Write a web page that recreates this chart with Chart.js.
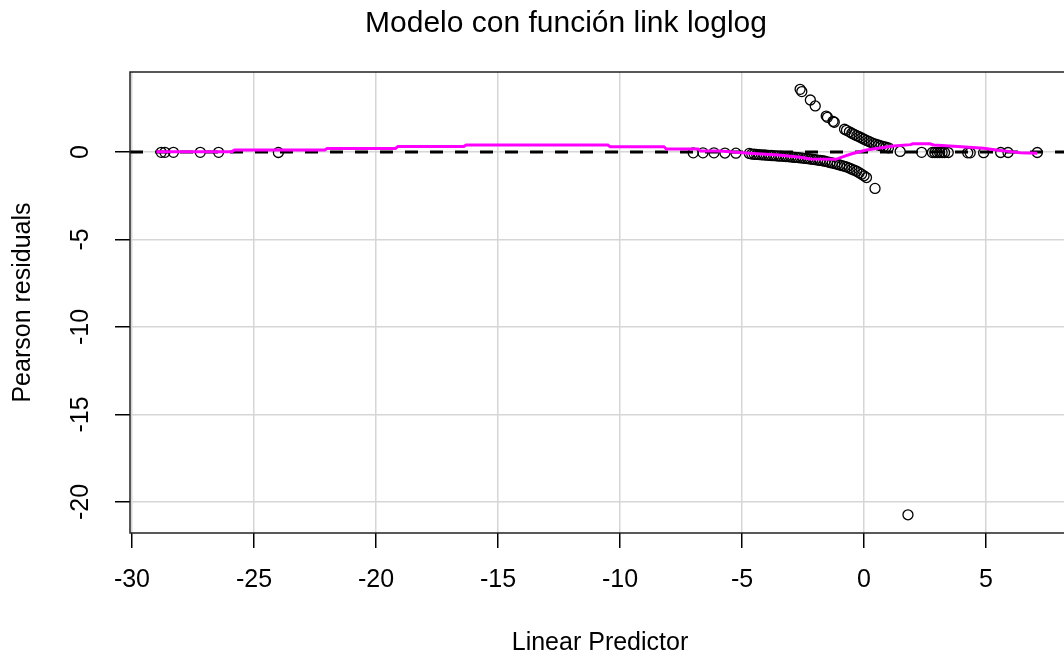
<!DOCTYPE html>
<html>
<head>
<meta charset="utf-8">
<script src="https://cdn.jsdelivr.net/npm/chart.js@4.4.1/dist/chart.umd.min.js"></script>
<style>
  html, body { margin: 0; padding: 0; background: #fff; overflow: hidden; }
  #wrap { width: 1100px; height: 659px; }
</style>
</head>
<body>
<div id="wrap"><canvas id="chart" width="1100" height="659"></canvas></div>
<script>
// Residuos de Pearson frente al predictor lineal
const chartTitle = 'Modelo con función link loglog';
const xTitle = 'Linear Predictor';
const yTitle = 'Pearson residuals';

const xTicks = [-30, -25, -20, -15, -10, -5, 0, 5];
const yTicks = [0, -5, -10, -15, -20];
const xLimits = [-30.08, 8.44];
const yLimits = [-21.77, 4.57];

// observaciones con residuo ~0 (izquierda y centro)
const flatX = [-28.8, -28.65, -28.3, -27.2, -26.45, -24.0,
               -7.0, -6.6, -6.15, -5.7, -5.25, -4.7];
const flatY = [-0.02, -0.02, -0.02, -0.02, -0.02, -0.03,
               -0.05, -0.05, -0.05, -0.06, -0.07, -0.08];

// rama inferior (y = 0)
const lowerX = [-4.6, -4.5, -4.4, -4.3, -4.2, -4.1, -4.0, -3.9, -3.8, -3.7, -3.6, -3.5,
                -3.4, -3.3, -3.2, -3.1, -3.0, -2.9, -2.8, -2.7, -2.6, -2.5, -2.4, -2.3,
                -2.2, -2.1, -2.0, -1.9, -1.8, -1.7, -1.6, -1.5, -1.4, -1.3, -1.2, -1.1,
                -1.0, -0.9, -0.8, -0.7, -0.6, -0.5, -0.4, -0.3, -0.2, -0.1, 0.0, 0.1, 0.45];
const lowerY = [-0.12, -0.13, -0.14, -0.15, -0.16, -0.17, -0.18, -0.19, -0.2, -0.21, -0.22, -0.23,
                -0.24, -0.25, -0.26, -0.27, -0.28, -0.3, -0.31, -0.32, -0.34, -0.35, -0.37, -0.38,
                -0.4, -0.42, -0.44, -0.46, -0.48, -0.5, -0.53, -0.56, -0.6, -0.63, -0.66, -0.7,
                -0.74, -0.78, -0.82, -0.86, -0.92, -0.98, -1.04, -1.1, -1.18, -1.27, -1.36, -1.46, -2.08];

// rama superior (y = 1)
const upperX = [-2.62, -2.55, -2.2, -2.0, -1.55, -1.5, -1.27, -1.22, -0.8, -0.72, -0.6, -0.5,
                -0.4, -0.3, -0.2, -0.1, 0.0, 0.1, 0.2, 0.3, 0.4, 0.5, 0.6, 0.7, 0.8, 0.9, 1.0];
const upperY = [3.58, 3.45, 2.97, 2.63, 2.05, 1.98, 1.75, 1.7, 1.3, 1.24, 1.15, 1.07,
                1.0, 0.93, 0.87, 0.8, 0.73, 0.66, 0.6, 0.54, 0.48, 0.44, 0.39, 0.35, 0.31, 0.27, 0.24];

// derecha, residuo ~0, y el atípico
const rightX = [1.48, 2.36, 2.8, 2.9, 3.0, 3.1, 3.2, 3.3, 3.45, 4.25, 4.35, 4.9, 5.6, 5.9, 7.1, 1.8];
const rightY = [0.03, -0.02, -0.03, -0.03, -0.03, -0.03, -0.03, -0.03, -0.03, -0.05, -0.05, -0.04, -0.03, -0.03, -0.03, -20.73];

// curva suavizada (magenta)
const smoothX = [-29.0, -25.9, -25.8, -22.1, -22.0, -19.2, -19.1, -16.4, -16.3, -10.5, -10.4, -8.2,
                 -8.1, -6.8, -6.7, -5.9, -4.7, -3.5, -2.6, -2.2, -1.15, -0.85, -0.5, 0.1,
                 1.2, 1.9, 2.0, 2.7, 2.85, 4.0, 4.9, 5.5, 6.0, 6.4, 7.1];
const smoothY = [0.02, 0.02, 0.11, 0.11, 0.2, 0.2, 0.32, 0.32, 0.4, 0.4, 0.3, 0.3,
                 0.17, 0.17, 0.06, 0.06, -0.07, -0.17, -0.3, -0.4, -0.42, -0.27, -0.1, 0.11,
                 0.34, 0.42, 0.47, 0.47, 0.4, 0.3, 0.21, 0.1, 0.02, -0.04, -0.07];

const FONT = '"Liberation Sans", Arial, sans-serif';

function pairs(xs, ys) {
    return xs.map((x, i) => ({ x: x, y: ys[i] }));
}

const pointData = [
    ...pairs(flatX, flatY),
    ...pairs(lowerX, lowerY),
    ...pairs(upperX, upperY),
    ...pairs(rightX, rightY)
];

// título, caja y etiquetas del eje Y giradas (estilo R)
const rStylePlugin = {
    id: 'rStyle',
    afterDraw(chart) {
        const { ctx, chartArea, scales } = chart;
        ctx.save();
        ctx.strokeStyle = '#222';
        ctx.lineWidth = 1.5;
        ctx.strokeRect(chartArea.left, chartArea.top,
                       chartArea.right - chartArea.left, chartArea.bottom - chartArea.top);

        ctx.fillStyle = '#000';
        ctx.font = '30px ' + FONT;
        ctx.textAlign = 'center';
        ctx.textBaseline = 'middle';
        ctx.fillText(chartTitle, 566, 24);

        ctx.font = '25px ' + FONT;
        yTicks.forEach(v => {
            const py = scales.y.getPixelForValue(v);
            ctx.save();
            ctx.translate(81, py);
            ctx.rotate(-Math.PI / 2);
            ctx.fillText(String(v), 0, 0);
            ctx.restore();
        });
        ctx.restore();
    }
};

new Chart(document.getElementById('chart'), {
    type: 'scatter',
    data: {
        datasets: [
            {
                type: 'line',
                data: pairs(smoothX, smoothY),
                borderColor: '#ff00ff',
                borderWidth: 3,
                pointRadius: 0,
                tension: 0,
                order: 0
            },
            {
                type: 'line',
                data: pairs(xLimits, [0, 0]),
                borderColor: '#000',
                borderWidth: 3,
                borderDash: [13, 12],
                pointRadius: 0,
                order: 1
            },
            {
                data: pointData,
                pointStyle: 'circle',
                pointRadius: 5,
                borderWidth: 1.3,
                borderColor: '#000',
                backgroundColor: 'rgba(0,0,0,0)',
                order: 2
            }
        ]
    },
    options: {
        responsive: false,
        animation: false,
        devicePixelRatio: 1,
        layout: { padding: { left: 0, top: 72, right: 30, bottom: 0 } },
        plugins: {
            legend: { display: false },
            tooltip: { enabled: false }
        },
        scales: {
            x: {
                type: 'linear',
                min: xLimits[0],
                max: xLimits[1],
                afterBuildTicks: s => { s.ticks = xTicks.map(v => ({ value: v })); },
                afterFit: s => { s.height = 126; },
                border: { display: false },
                grid: { color: '#d6d6d6', lineWidth: 1.5, tickColor: '#000', tickLength: 15 },
                ticks: {
                    color: '#000',
                    font: { family: FONT, size: 25 },
                    padding: 17,
                    maxRotation: 0,
                    callback: v => String(v)
                },
                title: {
                    display: true,
                    text: xTitle,
                    color: '#000',
                    font: { family: FONT, size: 25 },
                    padding: { top: 0, bottom: 1 }
                }
            },
            y: {
                type: 'linear',
                min: yLimits[0],
                max: yLimits[1],
                afterBuildTicks: s => { s.ticks = yTicks.map(v => ({ value: v })); },
                afterFit: s => { s.width = 130; },
                border: { display: false },
                grid: { color: '#d6d6d6', lineWidth: 1.5, tickColor: '#000', tickLength: 15 },
                ticks: { display: false },
                title: {
                    display: true,
                    text: yTitle,
                    color: '#000',
                    font: { family: FONT, size: 25 },
                    padding: { top: 8, bottom: 0 }
                }
            }
        }
    },
    plugins: [rStylePlugin]
});
</script>
</body>
</html>
